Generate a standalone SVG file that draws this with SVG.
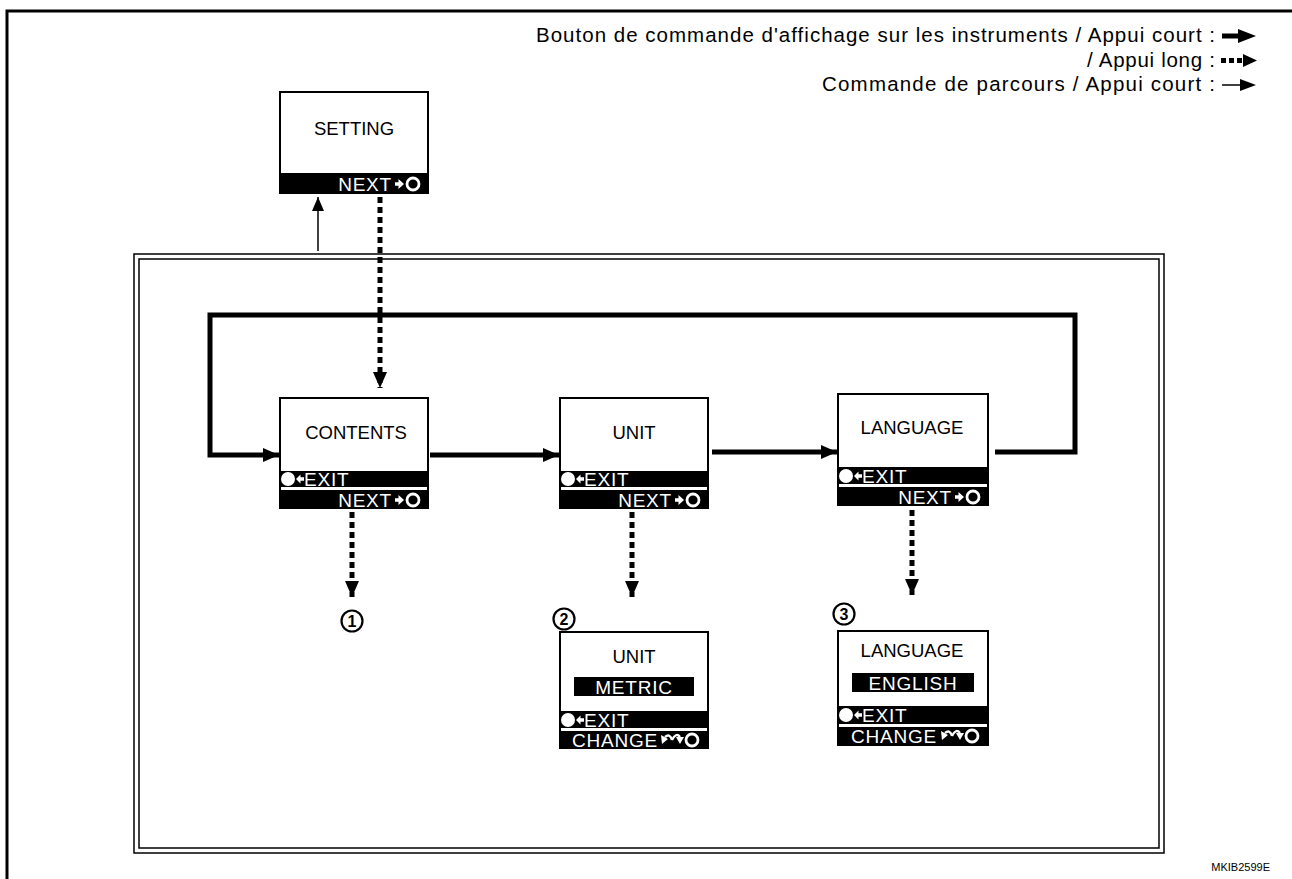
<svg xmlns="http://www.w3.org/2000/svg" xmlns:xlink="http://www.w3.org/1999/xlink" width="1292" height="879" viewBox="0 0 1292 879">
<style>
.box{fill:#fff;stroke:#000;stroke-width:2}
.bar{fill:#000}
.title{font-family:"Liberation Sans",Arial,sans-serif;font-size:18.5px;fill:#000;text-anchor:middle}
.bt{font-family:"Liberation Sans",Arial,sans-serif;font-size:19px;fill:#fff;letter-spacing:0.8px}
.leg{font-family:"Liberation Sans",Arial,sans-serif;font-size:20.5px;fill:#000;text-anchor:end}
.thick{fill:none;stroke:#000;stroke-width:5}
.dot{fill:none;stroke:#000;stroke-width:5;stroke-dasharray:6 4}
.thin{fill:none;stroke:#000;stroke-width:1.5}
.num{font-family:"Liberation Sans",Arial,sans-serif;font-size:16px;font-weight:bold;text-anchor:middle}
</style>
<defs>
<marker id="ah" markerUnits="userSpaceOnUse" markerWidth="18" markerHeight="16" refX="16" refY="8" orient="auto"><path d="M0,1 L16,8 L0,15 Z" fill="#000"/></marker>
<marker id="ahs" markerUnits="userSpaceOnUse" markerWidth="16" markerHeight="14" refX="14" refY="6" orient="auto"><path d="M0,0 L14,6 L0,12 Z" fill="#000"/></marker>
<g id="exitIcon"><circle cx="0" cy="0" r="7" fill="#fff"/><path d="M8,0 L12.5,-4.5 L12.5,-1.8 L16,-1.8 L16,1.8 L12.5,1.8 L12.5,4.5 Z" fill="#fff"/></g>
<g id="nextIcon"><path d="M0,-1.8 H3.5 V-5 L9,0 L3.5,5 V1.8 H0 Z" fill="#fff"/><circle cx="18" cy="0" r="6" fill="none" stroke="#fff" stroke-width="2.8"/></g>
<g id="changeIcon"><path d="M11,0 Q9,-7 4,-3" fill="none" stroke="#fff" stroke-width="2.4"/><path d="M0,-5 L7,-1 L1,4 Z" fill="#fff"/><path d="M11,0 Q15,-8 19,-3" fill="none" stroke="#fff" stroke-width="2.4"/><path d="M15,-3 L23,-3 L19,4 Z" fill="#fff"/><circle cx="31" cy="0" r="6" fill="none" stroke="#fff" stroke-width="2.8"/></g>
</defs>
<rect width="1292" height="879" fill="#fff"/>
<path d="M7,879 V11 H1292" fill="none" stroke="#000" stroke-width="3"/>
<g id="legend">
<text class="leg" x="1215" y="42" textLength="679" lengthAdjust="spacing">Bouton de commande d'affichage sur les instruments / Appui court :</text>
<text class="leg" x="1215" y="67" textLength="128" lengthAdjust="spacing">/ Appui long :</text>
<text class="leg" x="1215" y="91" textLength="393" lengthAdjust="spacing">Commande de parcours / Appui court :</text>
<path d="M1222,36 H1240" stroke="#000" stroke-width="5"/><path d="M1238,29 L1256,36 L1238,43 Z"/>
<rect x="1221" y="58" width="5" height="5"/><rect x="1229" y="58" width="5" height="5"/><rect x="1237" y="58" width="5" height="5"/><path d="M1243,54 L1257,60.5 L1243,67 Z"/>
<path d="M1222,85 H1242" stroke="#000" stroke-width="1.5"/><path d="M1240,79 L1256,85 L1240,91 Z"/>
</g>
<g id="frame">
<rect x="134" y="254" width="1030" height="599" fill="none" stroke="#000" stroke-width="1.5"/>
<rect x="139" y="259" width="1020" height="589" fill="none" stroke="#000" stroke-width="1.5"/>
</g>
<g id="connectors">
<path class="thick" d="M995,452 H1075 V315 H210 V455 H279" marker-end="url(#ah)"/>
<path class="thick" d="M430,455 H559" marker-end="url(#ah)"/>
<path class="thick" d="M712,452 H837" marker-end="url(#ah)"/>
<path class="dot" d="M380,197 V388" marker-end="url(#ah)"/>
<path class="dot" d="M352,512 V597" marker-end="url(#ah)"/>
<path class="dot" d="M632,512 V597" marker-end="url(#ah)"/>
<path class="dot" d="M912,510 V595" marker-end="url(#ah)"/>
<path class="thin" d="M318,251 V197" marker-end="url(#ahs)"/>
</g>
<g id="setting">
<rect class="box" x="280" y="92" width="148" height="101"/>
<text class="title" x="354" y="135">SETTING</text>
<rect class="bar" x="279" y="173" width="150" height="21"/>
<text class="bt" x="392" y="191" text-anchor="end">NEXT</text>
<use xlink:href="#nextIcon" x="395" y="184"/>
</g>
<g id="contents">
<rect class="box" x="280" y="398" width="148" height="110"/>
<text class="title" x="356" y="439">CONTENTS</text>
<rect class="bar" x="279" y="471" width="150" height="16"/>
<use xlink:href="#exitIcon" x="288" y="479"/>
<text class="bt" x="304" y="486">EXIT</text>
<rect class="bar" x="279" y="490" width="150" height="19"/>
<text class="bt" x="392" y="507" text-anchor="end">NEXT</text>
<use xlink:href="#nextIcon" x="395" y="500"/>
</g>
<g id="unit">
<rect class="box" x="560" y="398" width="148" height="110"/>
<text class="title" x="634" y="439">UNIT</text>
<rect class="bar" x="559" y="471" width="150" height="16"/>
<use xlink:href="#exitIcon" x="568" y="479"/>
<text class="bt" x="584" y="486">EXIT</text>
<rect class="bar" x="559" y="490" width="150" height="19"/>
<text class="bt" x="672" y="507" text-anchor="end">NEXT</text>
<use xlink:href="#nextIcon" x="675" y="500"/>
</g>
<g id="language">
<rect class="box" x="838" y="394" width="150" height="111"/>
<text class="title" x="912" y="434">LANGUAGE</text>
<rect class="bar" x="837" y="467" width="152" height="17"/>
<use xlink:href="#exitIcon" x="846" y="476"/>
<text class="bt" x="862" y="483">EXIT</text>
<rect class="bar" x="837" y="487" width="152" height="19"/>
<text class="bt" x="952" y="504" text-anchor="end">NEXT</text>
<use xlink:href="#nextIcon" x="955" y="497"/>
</g>
<g id="n1">
<circle cx="352" cy="621" r="10.5" fill="none" stroke="#000" stroke-width="2.2"/>
<text class="num" x="352" y="627">1</text>
</g>
<g id="unit-metric">
<circle cx="564" cy="619" r="10.5" fill="none" stroke="#000" stroke-width="2.2"/>
<text class="num" x="564" y="625">2</text>
<rect class="box" x="560" y="632" width="148" height="116"/>
<text class="title" x="634" y="663">UNIT</text>
<rect class="bar" x="574" y="677" width="120" height="19"/>
<text class="bt" x="634" y="694" text-anchor="middle">METRIC</text>
<rect class="bar" x="559" y="711" width="150" height="17"/>
<use xlink:href="#exitIcon" x="568" y="720"/>
<text class="bt" x="584" y="727">EXIT</text>
<rect class="bar" x="559" y="731" width="150" height="18"/>
<text class="bt" x="572" y="747">CHANGE</text>
<use xlink:href="#changeIcon" x="661" y="740"/>
</g>
<g id="language-english">
<circle cx="844" cy="614" r="10.5" fill="none" stroke="#000" stroke-width="2.2"/>
<text class="num" x="844" y="620">3</text>
<rect class="box" x="838" y="631" width="150" height="114"/>
<text class="title" x="912" y="657">LANGUAGE</text>
<rect class="bar" x="852" y="673" width="122" height="19"/>
<text class="bt" x="913" y="690" text-anchor="middle">ENGLISH</text>
<rect class="bar" x="837" y="706" width="152" height="18"/>
<use xlink:href="#exitIcon" x="846" y="715"/>
<text class="bt" x="862" y="722">EXIT</text>
<rect class="bar" x="837" y="727" width="152" height="18"/>
<text class="bt" x="851" y="743">CHANGE</text>
<use xlink:href="#changeIcon" x="941" y="736"/>
</g>
<text x="1270" y="871" font-family="'Liberation Sans',Arial,sans-serif" font-size="11" text-anchor="end">MKIB2599E</text>
</svg>
